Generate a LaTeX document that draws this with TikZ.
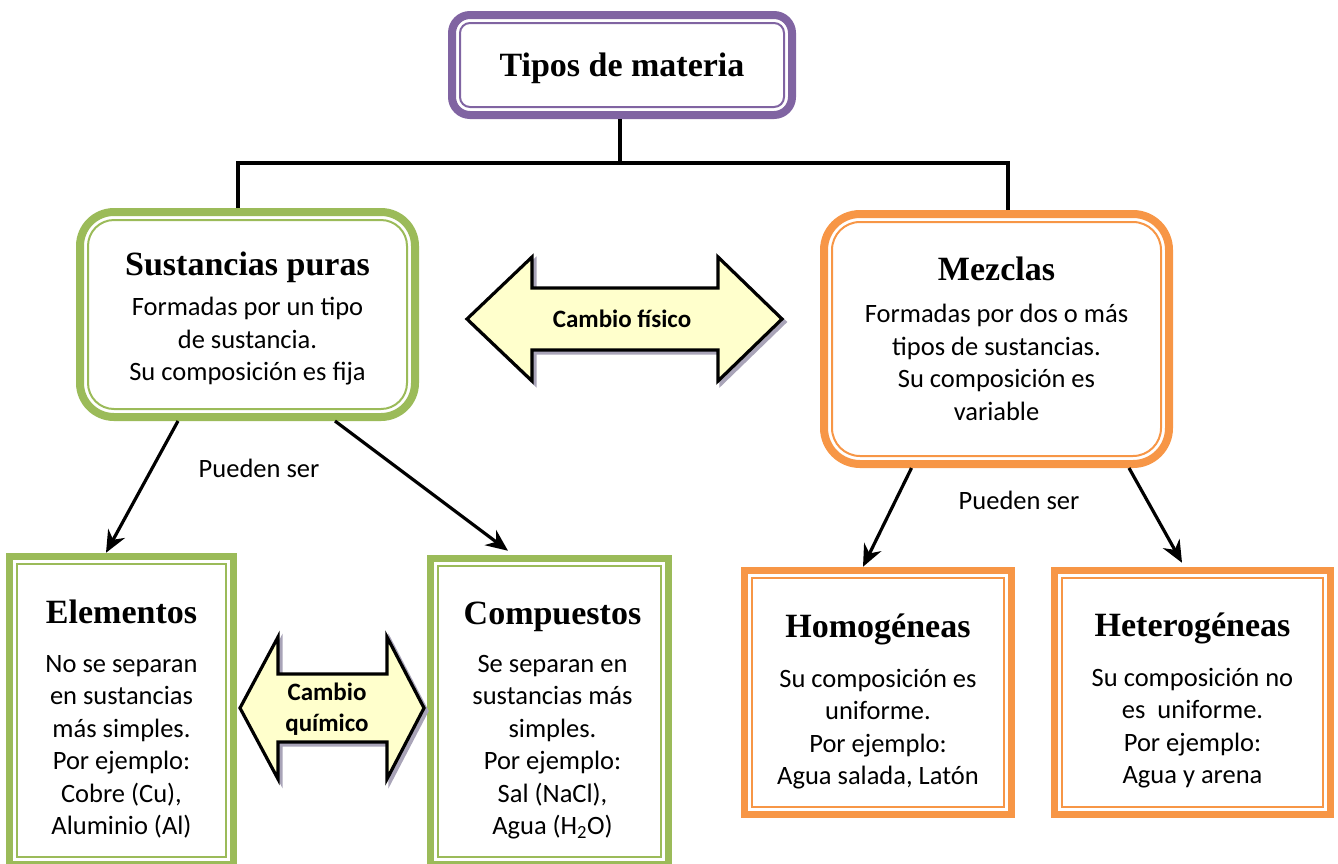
\documentclass[tikz,border=0pt]{standalone}
\usepackage{fontspec}
\setmainfont{Carlito}
\newfontfamily\cambriafont{Liberation Serif}
\usetikzlibrary{calc,positioning,arrows.meta}

\definecolor{tipopurple}{HTML}{8064A2}
\definecolor{puragreen}{HTML}{9BBB59}
\definecolor{mezclaorange}{HTML}{F79646}
\definecolor{cambioyellow}{HTML}{FFFFCC}
\definecolor{cambioshadow}{HTML}{A9A4B8}

\newcommand{\boxtitle}[1]{{\cambriafont\bfseries\fontsize{34}{40}\selectfont #1}}

\tikzset{
    roundbox/.style 2 args={draw=#1, line width=8pt, rounded corners=#2, inner sep=0pt,
        append after command={\pgfextra{\draw[draw=#1, line width=2pt, rounded corners=#2-8pt]
            ([xshift=12pt,yshift=-12pt]\tikzlastnode.north west) rectangle ([xshift=-12pt,yshift=12pt]\tikzlastnode.south east);}}},
    squarebox/.style={draw=#1, line width=7.5pt, inner sep=0pt,
        append after command={\pgfextra{\draw[draw=#1, line width=2pt]
            ([xshift=11pt,yshift=-11pt]\tikzlastnode.north west) rectangle ([xshift=-11pt,yshift=11pt]\tikzlastnode.south east);}}},
    boxtext/.style={align=center, inner sep=0pt, font=\fontsize{26.5}{32.5}\selectfont},
    cambiotext/.style={align=center, inner sep=0pt, font=\bfseries\fontsize{25}{31}\selectfont},
    cambioarrow/.style={draw=black, line width=3.2pt, fill=cambioyellow, line join=miter},
    cambioshade/.style={draw=cambioshadow, line width=3.2pt, fill=cambioshadow, shift={(3,3)}},
    tree/.style={draw=black, line width=3.5pt},
    pointer/.style={-{Stealth[length=22pt, width=19pt]}, line width=3.2pt},
}

\begin{document}
\begin{tikzpicture}[x=1pt, y=-1pt]
    \useasboundingbox (0,0) rectangle (1338,863);

    %% Boxes
    \node[roundbox={tipopurple}{18pt}, minimum width=340pt, minimum height=100pt] (tipos) at (622,65) {};
    \node[roundbox={puragreen}{34pt}, minimum width=335pt, minimum height=205pt] (sust) at (247.5,314.5) {};
    \node[roundbox={mezclaorange}{36pt}, minimum width=345pt, minimum height=250pt] (mezc) at (996.5,339) {};
    \node[squarebox=puragreen, minimum width=224pt, minimum height=308pt] (elem) at (121.5,710.5) {};
    \node[squarebox=puragreen, minimum width=238pt, minimum height=306pt] (comp) at (549.5,711.5) {};
    \node[squarebox=mezclaorange, minimum width=267pt, minimum height=244pt] (homo) at (878,692.5) {};
    \node[squarebox=mezclaorange, minimum width=276pt, minimum height=244pt] (hete) at (1192.5,692.5) {};

    %% Box texts
    \node[boxtext, below=42pt of tipos.north] (tipos-txt) {\boxtitle{Tipos de materia}};
    \node[boxtext, below=44pt of sust.north] (sust-txt) {\boxtitle{Sustancias puras}\\[7.5pt] Formadas por un tipo\\ de sustancia.\\ Su composición es fija};
    \node[boxtext, below=47pt of mezc.north] (mezc-txt) {\boxtitle{Mezclas}\\[9.5pt] Formadas por dos o más\\ tipos de sustancias.\\ Su composición es\\ variable};
    \node[boxtext, below=47pt of elem.north] (elem-txt) {\boxtitle{Elementos}\\[16pt] No se separan\\ en sustancias\\ más simples.\\ Por ejemplo:\\ Cobre (Cu),\\ Aluminio (Al)};
    \node[boxtext, below=47pt of comp.north, xshift=3pt] (comp-txt) {\boxtitle{Compuestos}\\[15.5pt] Se separan en\\ sustancias más\\ simples.\\ Por ejemplo:\\ Sal (NaCl),\\ Agua (H\textsubscript{2}O)};
    \node[boxtext, below=47pt of homo.north] (homo-txt) {\boxtitle{Homogéneas}\\[17pt] Su composición es\\ uniforme.\\ Por ejemplo:\\ Agua salada, Latón};
    \node[boxtext, below=46pt of hete.north] (hete-txt) {\boxtitle{Heterogéneas}\\[17pt] Su composición no\\ es\ \ uniforme.\\ Por ejemplo:\\ Agua y arena};

    %% Tree from the top box
    \coordinate (split) at (620,163);
    \draw[tree] (tipos.south -| split) -- (split);
    \draw[tree] ([xshift=-9.5pt]sust.north) |- (split) -| ([xshift=11.5pt]mezc.north);

    %% Pueden ser
    \draw[pointer] ([xshift=-69.5pt]sust.south) -- ([xshift=-15.5pt]elem.north);
    \draw[pointer] ([xshift=87.5pt]sust.south) -- ([xshift=-41.5pt,yshift=4pt]comp.north);
    \draw[pointer] ([xshift=-85pt]mezc.south) -- ([xshift=-15pt]homo.north);
    \draw[pointer] ([xshift=132.5pt]mezc.south) -- ([xshift=-10.5pt,yshift=4pt]hete.north);
    \node[boxtext] (pueden-l) at (259,468) {Pueden ser};
    \node[boxtext] (pueden-r) at (1019,500) {Pueden ser};

    %% Cambio fisico
    \path[cambioshade] (467,319) -- (532,257) -- (532,288) -- (718,288) -- (718,257) -- (782,319)
        -- (718,381) -- (718,350) -- (532,350) -- (532,381) -- cycle;
    \path[cambioarrow] (467,319) -- (532,257) -- (532,288) -- (718,288) -- (718,257) -- (782,319)
        -- (718,381) -- (718,350) -- (532,350) -- (532,381) -- cycle;
    \node[cambiotext] (fis) at (622,319) {Cambio físico};

    %% Cambio quimico
    \path[cambioshade] (240,708) -- (278,637) -- (278,674) -- (387,674) -- (387,637) -- (424,708)
        -- (387,779) -- (387,742) -- (278,742) -- (278,779) -- cycle;
    \path[cambioarrow] (240,708) -- (278,637) -- (278,674) -- (387,674) -- (387,637) -- (424,708)
        -- (387,779) -- (387,742) -- (278,742) -- (278,779) -- cycle;
    \node[cambiotext] (quim) at (327,709) {Cambio\\químico};
\end{tikzpicture}
\end{document}
